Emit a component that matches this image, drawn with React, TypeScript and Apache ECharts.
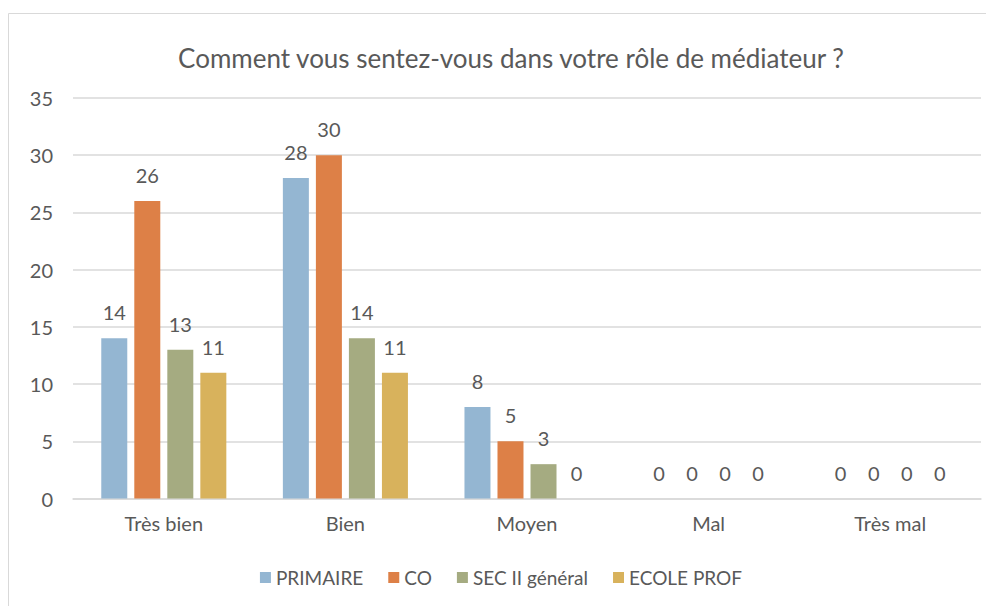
import React, { useEffect, useRef } from "react";
import * as echarts from "echarts";

const categories = ["Très bien", "Bien", "Moyen", "Mal", "Très mal"];
const seriesNames = ["PRIMAIRE", "CO", "SEC II général", "ECOLE PROF"];
const primaire = [14, 28, 8, 0, 0];
const co = [26, 30, 5, 0, 0];
const sec2 = [13, 14, 3, 0, 0];
const ecoleProf = [11, 11, 0, 0, 0];
const colors = ["#94B6D2", "#DD8047", "#A5AB81", "#D8B25C"];
const titleText = "Comment vous sentez-vous dans votre rôle de médiateur ?";

const FONT = "Lato, 'DejaVu Sans', sans-serif";
const TXT = "#595959";

export default function App() {
  const ref = useRef<HTMLDivElement>(null);
  useEffect(() => {
    if (!ref.current) return;
    const chart = echarts.init(ref.current, null, { renderer: "svg" });
    const values = [primaire, co, sec2, ecoleProf];
    chart.setOption({
      animation: false,
      textStyle: { fontFamily: FONT, color: TXT },
      graphic: [
        {
          type: "rect",
          shape: { x: 0.5, y: 5.5, width: 3000, height: 3000 },
          style: { fill: "none", stroke: "#d9d9d9", lineWidth: 1 },
          silent: true,
        },
        {
          type: "text",
          x: 503,
          y: 50,
          style: {
            text: titleText,
            fontFamily: FONT,
            fontSize: 26,
            fill: TXT,
            textAlign: "center",
            textVerticalAlign: "middle",
          },
        },
      ],
      legend: {
        data: seriesNames,
        left: "center",
        top: 555,
        icon: "rect",
        itemWidth: 11,
        itemHeight: 11,
        itemGap: 25,
        textStyle: { fontFamily: FONT, fontSize: 19, color: TXT },
      },
      grid: { left: 65, top: 90, right: 13, bottom: 107.5, containLabel: false },
      xAxis: {
        type: "category",
        data: categories,
        axisTick: { show: false },
        axisLine: { lineStyle: { color: "#d9d9d9", width: 1.5 } },
        axisLabel: { fontFamily: FONT, fontSize: 20, color: TXT, margin: 14 },
      },
      yAxis: {
        type: "value",
        min: 0,
        max: 35,
        interval: 5,
        axisLine: { show: false },
        axisTick: { show: false },
        splitLine: { lineStyle: { color: "#d9d9d9", width: 1.5 } },
        axisLabel: { fontFamily: FONT, fontSize: 20, color: TXT, margin: 20 },
      },
      series: seriesNames.map((name, i) => ({
        name,
        type: "bar",
        data: values[i],
        barWidth: 26,
        barGap: "27%",
        itemStyle: { color: colors[i] },
        label: {
          show: true,
          position: "top",
          distance: 16,
          fontFamily: FONT,
          fontSize: 20,
          color: TXT,
        },
      })),
    });
    return () => chart.dispose();
  }, []);
  return <div ref={ref} style={{ width: 986, height: 598 }} />;
}
